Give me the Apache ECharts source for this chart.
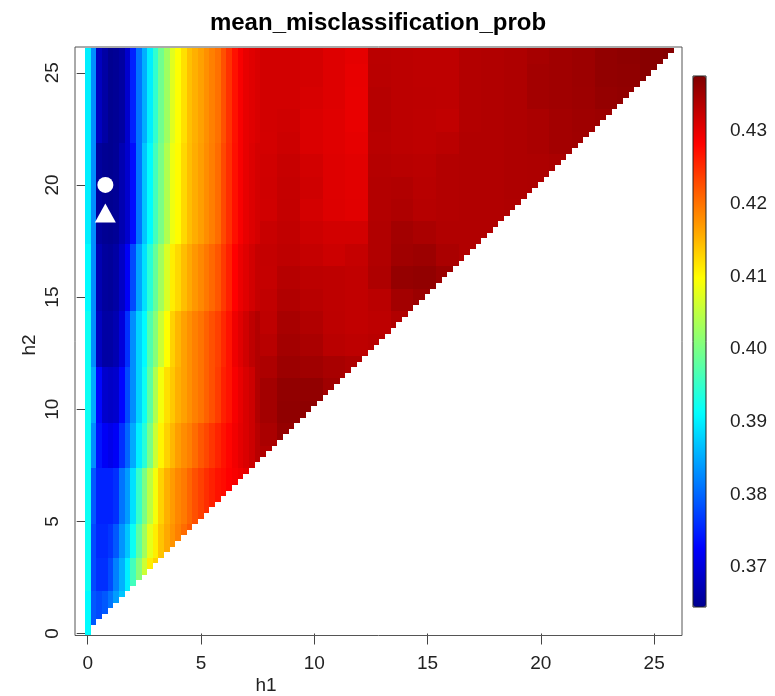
<!DOCTYPE html>
<html>
<head>
<meta charset="utf-8">
<title>mean_misclassification_prob</title>
<script src="https://cdn.jsdelivr.net/npm/echarts@6.0.0/dist/echarts.min.js"></script>
<style>
  html, body { margin: 0; padding: 0; background: #fff; }
  #chart { width: 775px; height: 696px; }
</style>
</head>
<body>
<div id="chart"></div>
<script>
const xTicks = [0, 5, 10, 15, 20, 25];
const yTicks = [0, 5, 10, 15, 20, 25];
const barTicks = [0.37, 0.38, 0.39, 0.40, 0.41, 0.42, 0.43];
const zMin = 0.3645;
const zMax = 0.4376;

// grid of the surface: h1, h2 in steps of 0.25, only h1 < h2 (plus h1 = 0)
const cellStep = 0.25;
const h1Last = 25.75;
const h2Last = 26;

// left part of the surface, values at h1 = 0, 0.25, 0.5 ... 7.5
// one profile per band of h2 (band starts in stripeBandStart)
const stripeBandStart = [0, 2, 3.5, 5, 7.5, 9.5, 12, 14.5, 17.5, 22];
const stripeH2_1 = [0.391, 0.379, 0.378, 0.379, 0.381, 0.384, 0.387];
const stripeH2_3 = [0.392, 0.378, 0.376, 0.376, 0.378, 0.382, 0.3855, 0.390, 0.396, 0.401,
  0.406, 0.411, 0.413];
const stripeH2_4 = [0.392, 0.378, 0.3755, 0.3755, 0.3765, 0.379, 0.3835, 0.387, 0.392, 0.398,
  0.403, 0.408, 0.411, 0.414, 0.416, 0.4175, 0.419, 0.4205, 0.422];
const stripeH2_6 = [0.392, 0.379, 0.375, 0.375, 0.375, 0.376, 0.381, 0.384, 0.389, 0.395,
  0.400, 0.405, 0.409, 0.413, 0.4155, 0.417, 0.4185, 0.4195, 0.421, 0.4225,
  0.4237, 0.425, 0.426, 0.427, 0.4275, 0.4283, 0.4288, 0.4294, 0.430, 0.4306, 0.431];
const stripeH2_8 = [0.392, 0.383, 0.374, 0.372, 0.371, 0.372, 0.376, 0.380, 0.385, 0.390,
  0.394, 0.400, 0.406, 0.4105, 0.413, 0.415, 0.4168, 0.418, 0.419, 0.4205,
  0.422, 0.4232, 0.4245, 0.4258, 0.427, 0.428, 0.4292, 0.4302, 0.431, 0.432, 0.4335];
const stripeH2_10 = [0.392, 0.385, 0.373, 0.369, 0.3685, 0.369, 0.373, 0.378, 0.383, 0.388,
  0.392, 0.398, 0.404, 0.409, 0.412, 0.4137, 0.4155, 0.4166, 0.4178, 0.419,
  0.420, 0.4213, 0.4225, 0.424, 0.426, 0.427, 0.4288, 0.430, 0.4311, 0.432, 0.434];
const stripeH2_13 = [0.392, 0.383, 0.368, 0.366, 0.366, 0.367, 0.370, 0.376, 0.383, 0.388,
  0.391, 0.397, 0.401, 0.406, 0.4097, 0.413, 0.415, 0.4166, 0.4178, 0.419,
  0.420, 0.4213, 0.4225, 0.4237, 0.4255, 0.427, 0.4294, 0.4306, 0.4317, 0.433, 0.434];
const stripeH2_16 = [0.391, 0.383, 0.367, 0.3655, 0.3652, 0.366, 0.3685, 0.372, 0.378, 0.3845,
  0.389, 0.394, 0.3985, 0.403, 0.407, 0.411, 0.4125, 0.4145, 0.416, 0.4173,
  0.4184, 0.4196, 0.4208, 0.4221, 0.4242, 0.426, 0.4283, 0.4297, 0.4306, 0.4316, 0.4325];
const stripeH2_19 = [0.390, 0.383, 0.3655, 0.3648, 0.3646, 0.3650, 0.367, 0.369, 0.3735, 0.381,
  0.387, 0.391, 0.396, 0.400, 0.404, 0.4085, 0.410, 0.4125, 0.4145, 0.4157,
  0.4168, 0.418, 0.4192, 0.4205, 0.423, 0.425, 0.4272, 0.4288, 0.430, 0.4308, 0.4314];
const stripeH2_24 = [0.390, 0.383, 0.368, 0.366, 0.3646, 0.3649, 0.3658, 0.369, 0.375, 0.381,
  0.3854, 0.390, 0.3947, 0.3993, 0.4028, 0.4075, 0.4097, 0.412, 0.4143, 0.4155,
  0.4166, 0.4178, 0.419, 0.4201, 0.4225, 0.4248, 0.4271, 0.4288, 0.430, 0.4306, 0.4311];
const stripes = [stripeH2_1, stripeH2_3, stripeH2_4, stripeH2_6, stripeH2_8,
  stripeH2_10, stripeH2_13, stripeH2_16, stripeH2_19, stripeH2_24];

// right part (h1 >= 7.75) in 1 x 1 blocks: row = h2 8..26, column = h1 8..row
const redRows = [
  [0.4340],
  [0.4345, 0.4360],
  [0.4350, 0.4364, 0.4365],
  [0.4350, 0.4362, 0.4362, 0.4352],
  [0.4343, 0.4355, 0.4352, 0.4346, 0.4342],
  [0.4335, 0.4350, 0.4345, 0.4334, 0.4331, 0.4334],
  [0.4330, 0.4346, 0.4340, 0.4331, 0.4328, 0.4331, 0.4340],
  [0.4328, 0.4340, 0.4335, 0.4330, 0.4328, 0.4333, 0.4350, 0.4356],
  [0.4325, 0.4336, 0.4332, 0.4330, 0.4328, 0.4342, 0.4360, 0.4362, 0.4356],
  [0.4326, 0.4330, 0.4325, 0.4320, 0.4325, 0.4340, 0.4352, 0.4355, 0.4345, 0.4340],
  [0.4323, 0.4328, 0.4320, 0.4316, 0.4316, 0.4340, 0.4350, 0.4345, 0.4340, 0.4340, 0.4340],
  [0.4317, 0.4326, 0.4315, 0.4308, 0.4305, 0.4338, 0.4342, 0.4336, 0.4338, 0.4340, 0.4340, 0.4341],
  [0.4318, 0.4325, 0.4318, 0.4307, 0.4304, 0.4338, 0.4340, 0.4335, 0.4338, 0.4340, 0.4340, 0.4342, 0.4343],
  [0.4317, 0.4324, 0.4316, 0.4307, 0.4304, 0.4337, 0.4335, 0.4333, 0.4338, 0.4340, 0.4340, 0.4342, 0.4343, 0.4345],
  [0.4315, 0.4320, 0.4310, 0.4306, 0.4301, 0.4335, 0.4332, 0.4330, 0.4333, 0.4340, 0.4340, 0.4342, 0.4345, 0.4350, 0.4352],
  [0.4316, 0.4318, 0.4310, 0.4306, 0.4299, 0.4336, 0.4332, 0.4330, 0.4328, 0.4338, 0.4340, 0.4342, 0.4345, 0.4350, 0.4353, 0.4355],
  [0.4316, 0.4316, 0.4312, 0.4307, 0.4299, 0.4336, 0.4332, 0.4331, 0.4330, 0.4338, 0.4340, 0.4342, 0.4350, 0.4352, 0.4354, 0.4360, 0.4362],
  [0.4316, 0.4316, 0.4314, 0.4307, 0.4300, 0.4334, 0.4332, 0.4330, 0.4330, 0.4338, 0.4340, 0.4342, 0.4350, 0.4352, 0.4355, 0.4362, 0.4364, 0.4370],
  [0.4316, 0.4316, 0.4314, 0.4307, 0.4302, 0.4333, 0.4332, 0.4330, 0.4330, 0.4338, 0.4340, 0.4342, 0.4348, 0.4352, 0.4355, 0.4362, 0.4365, 0.4370, 0.4372]
];

const circlePoint = [0.78, 20];
const trianglePoint = [0.78, 18.75];

// fields::tim.colors(64)
const palette = [
  '#00008F', '#00009F', '#0000AF', '#0000BF', '#0000CF', '#0000DF', '#0000EF', '#0000FF',
  '#0010FF', '#0020FF', '#0030FF', '#0040FF', '#0050FF', '#0060FF', '#0070FF', '#0080FF',
  '#008FFF', '#009FFF', '#00AFFF', '#00BFFF', '#00CFFF', '#00DFFF', '#00EFFF', '#00FFFF',
  '#10FFEF', '#20FFDF', '#30FFCF', '#40FFBF', '#50FFAF', '#60FF9F', '#70FF8F', '#80FF80',
  '#8FFF70', '#9FFF60', '#AFFF50', '#BFFF40', '#CFFF30', '#DFFF20', '#EFFF10', '#FFFF00',
  '#FFEF00', '#FFDF00', '#FFCF00', '#FFBF00', '#FFAF00', '#FF9F00', '#FF8F00', '#FF8000',
  '#FF7000', '#FF6000', '#FF5000', '#FF4000', '#FF3000', '#FF2000', '#FF1000', '#FF0000',
  '#EF0000', '#DF0000', '#CF0000', '#BF0000', '#AF0000', '#9F0000', '#8F0000', '#800000'
];

const font = '"Liberation Sans", Arial, Helvetica, sans-serif';

const cells = [];
for (let i = 0; i * cellStep <= h2Last; i++) {
  const h2 = i * cellStep;
  let band = 0;
  stripeBandStart.forEach((s, b) => { if (h2 >= s) band = b; });
  for (let j = 0; j * cellStep <= h1Last; j++) {
    const h1 = j * cellStep;
    if (j > 0 && h1 > h2 - cellStep) break;
    let v;
    if (j < stripes[band].length) {
      v = stripes[band][j];
    } else {
      v = redRows[Math.round(h2) - 8][Math.round(h1) - 8];
    }
    cells.push([h1, h2, v]);
  }
}

function renderCell(params, api) {
  const h1 = api.value(0);
  const h2 = api.value(1);
  const a = api.coord([h1 - cellStep / 2, h2 + cellStep / 2]);
  const b = api.coord([h1 + cellStep / 2, h2 - cellStep / 2]);
  const x = Math.round(a[0]);
  const y = Math.round(a[1]);
  return {
    type: 'rect',
    shape: { x: x, y: y, width: Math.round(b[0]) - x, height: Math.round(b[1]) - y },
    style: { fill: api.visual('color') }
  };
}

const chart = echarts.init(document.getElementById('chart'));

chart.setOption({
  backgroundColor: '#fff',
  animation: false,
  textStyle: { fontFamily: font },
  grid: [
    { left: 75, top: 47, width: 607, height: 588.5 },
    { left: 693, top: 76, width: 13, height: 531 }
  ],
  xAxis: [
    {
      type: 'value',
      gridIndex: 0,
      min: -0.56,
      max: 26.23,
      axisLine: { show: false },
      axisTick: { show: true, customValues: xTicks, length: 11, lineStyle: { color: '#444' } },
      axisLabel: { customValues: xTicks, fontSize: 19, color: '#222', margin: 19, fontFamily: font },
      splitLine: { show: false }
    },
    { type: 'value', gridIndex: 1, show: false, min: 0, max: 1 }
  ],
  yAxis: [
    {
      type: 'value',
      gridIndex: 0,
      min: -0.089,
      max: 26.15,
      axisLine: { show: false },
      axisTick: { show: true, customValues: yTicks, length: 11, lineStyle: { color: '#444' } },
      axisLabel: { customValues: yTicks, fontSize: 19, color: '#222', rotate: 90, margin: 13, fontFamily: font },
      splitLine: { show: false }
    },
    {
      type: 'value',
      gridIndex: 1,
      position: 'right',
      min: zMin,
      max: zMax,
      axisLine: { show: false },
      axisTick: { show: true, customValues: barTicks, length: 12, lineStyle: { color: '#444' } },
      axisLabel: {
        customValues: barTicks, fontSize: 19, color: '#222', margin: 24, fontFamily: font,
        formatter: (v) => v.toFixed(2)
      },
      splitLine: { show: false }
    }
  ],
  visualMap: {
    type: 'continuous',
    min: zMin,
    max: zMax,
    dimension: 2,
    seriesIndex: 0,
    left: 693,
    top: 76,
    itemWidth: 13,
    itemHeight: 531,
    padding: 0,
    calculable: false,
    hoverLink: false,
    text: ['', ''],
    inRange: { color: palette }
  },
  graphic: [
    {
      type: 'rect', z: 100, silent: true,
      shape: { x: 75, y: 47, width: 607, height: 588.5 },
      style: { fill: 'none', stroke: '#555', lineWidth: 1 }
    },
    {
      type: 'rect', z: 100, silent: true,
      shape: { x: 693, y: 76, width: 13, height: 531 },
      style: { fill: 'none', stroke: '#222', lineWidth: 1 }
    },
    {
      type: 'text', x: 378, y: 23, z: 100,
      style: {
        text: 'mean_misclassification_prob', fill: '#000',
        font: 'bold 24px ' + font, textAlign: 'center', textVerticalAlign: 'middle',
        align: 'center', verticalAlign: 'middle'
      }
    },
    {
      type: 'text', x: 266, y: 686, z: 100,
      style: {
        text: 'h1', fill: '#222', font: '19px ' + font,
        textAlign: 'center', textVerticalAlign: 'middle', align: 'center', verticalAlign: 'middle'
      }
    },
    {
      type: 'text', x: 30, y: 345, z: 100, rotation: Math.PI / 2,
      style: {
        text: 'h2', fill: '#222', font: '19px ' + font,
        textAlign: 'center', textVerticalAlign: 'middle', align: 'center', verticalAlign: 'middle'
      }
    }
  ],
  series: [
    {
      type: 'custom',
      coordinateSystem: 'cartesian2d',
      xAxisIndex: 0,
      yAxisIndex: 0,
      clip: true,
      silent: true,
      encode: { x: 0, y: 1 },
      data: cells,
      renderItem: renderCell
    },
    {
      type: 'scatter',
      xAxisIndex: 0,
      yAxisIndex: 0,
      symbol: 'circle',
      symbolSize: 16,
      itemStyle: { color: '#fff', opacity: 1 },
      z: 5,
      silent: true,
      data: [circlePoint]
    },
    {
      type: 'scatter',
      xAxisIndex: 0,
      yAxisIndex: 0,
      symbol: 'triangle',
      symbolSize: [21, 19],
      itemStyle: { color: '#fff', opacity: 1 },
      z: 5,
      silent: true,
      data: [trianglePoint]
    }
  ]
});

window.addEventListener('resize', () => chart.resize());
</script>
</body>
</html>
